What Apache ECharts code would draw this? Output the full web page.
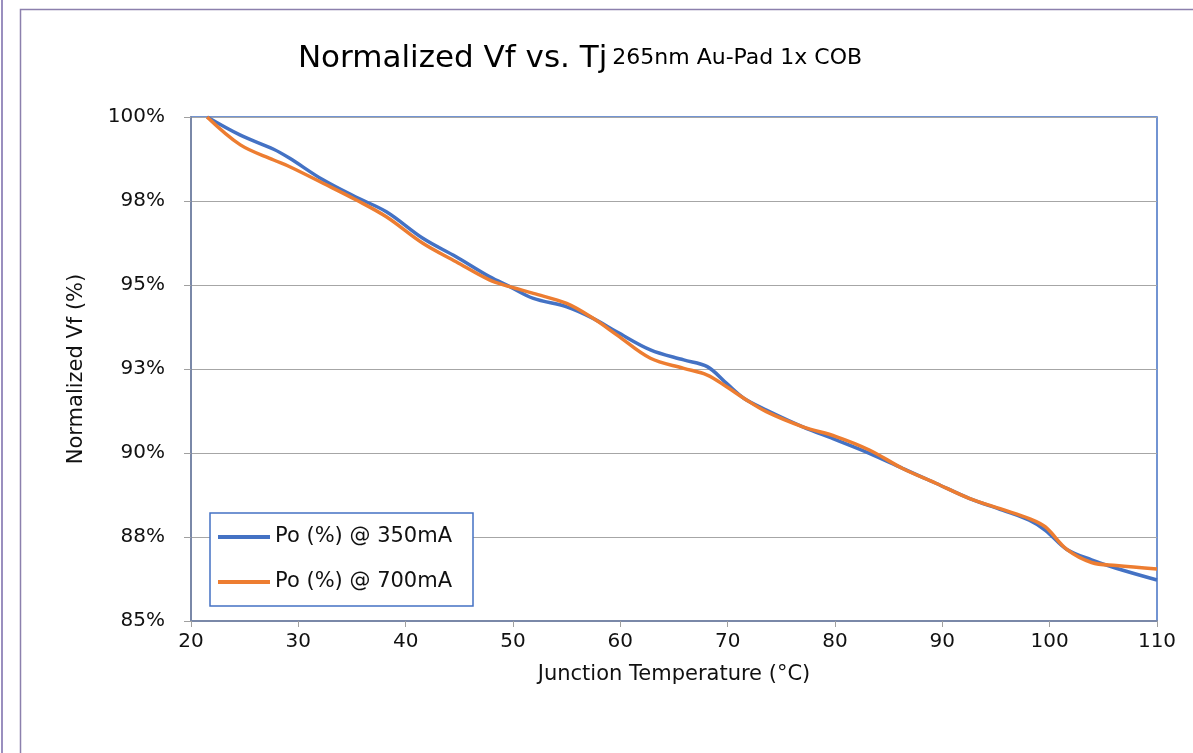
<!DOCTYPE html>
<html>
<head>
<meta charset="utf-8">
<script src="https://cdn.jsdelivr.net/npm/echarts@6/dist/echarts.min.js"></script>
<style>
html,body{margin:0;padding:0;background:#fff;}
#chart{width:1193px;height:753px;}
</style>
</head>
<body>
<div id="chart"></div>
<script>
const tempC = [21.5, 24.6, 27.7, 29.2, 32.3, 35.4, 38.2, 41.6, 44.7, 47.8, 49.7, 51.9, 55.0, 57.5, 59.7, 62.8, 65.9, 68.1, 69.9, 71.5, 73.6, 77.0, 80.1, 83.2, 86.3, 89.4, 92.5, 95.6, 98.1, 99.6, 101.6, 103.9, 106.2, 110];
const vf350 = [100, 99.46, 99.04, 98.77, 98.13, 97.61, 97.18, 96.39, 95.84, 95.25, 94.95, 94.6, 94.35, 94.0, 93.6, 93.07, 92.77, 92.57, 92.07, 91.63, 91.28, 90.78, 90.39, 89.99, 89.54, 89.1, 88.65, 88.3, 88.0, 87.7, 87.13, 86.82, 86.57, 86.22];
const vf700 = [100, 99.17, 98.72, 98.52, 98.03, 97.53, 97.03, 96.24, 95.69, 95.15, 94.95, 94.75, 94.45, 94.0, 93.51, 92.82, 92.52, 92.32, 91.97, 91.63, 91.23, 90.78, 90.49, 90.09, 89.54, 89.1, 88.65, 88.32, 88.05, 87.8, 87.13, 86.74, 86.65, 86.55];
const seriesNames = ['Po (%) @ 350mA', 'Po (%) @ 700mA'];
const titleMain = 'Normalized Vf vs. Tj';
const titleSub = '265nm Au-Pad 1x COB';
const xName = 'Junction Temperature (°C)';
const yName = 'Normalized Vf (%)';

const FONT = '"DejaVu Sans", "Noto Sans", sans-serif';
const chart = echarts.init(document.getElementById('chart'), null, {renderer: 'canvas'});
const pairs = (xs, ys) => xs.map((x, i) => [x, ys[i]]);

chart.setOption({
  animation: false,
  backgroundColor: '#fff',
  graphic: [
    {type: 'line', shape: {x1: 2, y1: 0, x2: 2, y2: 753}, style: {stroke: '#9a8fbf', lineWidth: 2}},
    {type: 'rect', shape: {x: 20.5, y: 9.5, width: 1300, height: 900}, style: {fill: null, stroke: '#8c80ad', lineWidth: 1.5}}
  ],
  title: {
    text: '{a|' + titleMain + '} {b|' + titleSub + '}',
    left: 575, top: 38, textAlign: 'center',
    textStyle: {
      rich: {
        a: {fontFamily: FONT, fontSize: 31, fontWeight: 'normal', color: '#000'},
        b: {fontFamily: FONT, fontSize: 22, fontWeight: 'normal', color: '#000'}
      }
    }
  },
  grid: {left: 191, right: 36, top: 117, bottom: 132, show: true, borderColor: '#4472c4', borderWidth: 1.5, backgroundColor: 'transparent'},
  legend: {
    orient: 'vertical', left: 210, top: 513,
    padding: [12, 8, 12, 8],
    itemGap: 21, itemWidth: 52, itemHeight: 4, itemTextGap: 6,
    icon: 'rect',
    borderColor: '#4472c4', borderWidth: 1.5, backgroundColor: '#fff',
    textStyle: {fontFamily: FONT, fontSize: 21, color: '#111', lineHeight: 24, width: 190, overflow: 'truncate'},
    data: seriesNames
  },
  xAxis: {
    type: 'value', min: 20, max: 110, interval: 10,
    name: xName, nameLocation: 'middle', nameGap: 43,
    nameTextStyle: {fontFamily: FONT, fontSize: 21, color: '#111'},
    axisLine: {show: true, onZero: false, lineStyle: {color: '#7a88a8', width: 2}},
    axisTick: {show: true, length: 6, lineStyle: {color: '#a0a0a0'}},
    axisLabel: {fontFamily: FONT, fontSize: 20, color: '#111', margin: 11},
    splitLine: {show: false}
  },
  yAxis: {
    type: 'value', min: 85, max: 100, interval: 2.5,
    name: yName, nameLocation: 'middle', nameGap: 104,
    nameTextStyle: {fontFamily: FONT, fontSize: 21, color: '#111'},
    axisLine: {show: true, onZero: false, lineStyle: {color: '#7a88a8', width: 2}},
    axisTick: {show: true, length: 7, lineStyle: {color: '#a0a0a0'}},
    axisLabel: {fontFamily: FONT, fontSize: 20, color: '#111', margin: 26, formatter: v => Math.round(v) + '%'},
    splitLine: {show: true, lineStyle: {color: '#a6a6a6', width: 1.2}}
  },
  series: [
    {name: seriesNames[0], type: 'line', data: pairs(tempC, vf350), smooth: 0.35, showSymbol: false, symbol: 'none',
     lineStyle: {color: '#4472c4', width: 3.5}, itemStyle: {color: '#4472c4'}, z: 2},
    {name: seriesNames[1], type: 'line', data: pairs(tempC, vf700), smooth: 0.35, showSymbol: false, symbol: 'none',
     lineStyle: {color: '#ed7d31', width: 3.5}, itemStyle: {color: '#ed7d31'}, z: 3}
  ]
});
</script>
</body>
</html>
